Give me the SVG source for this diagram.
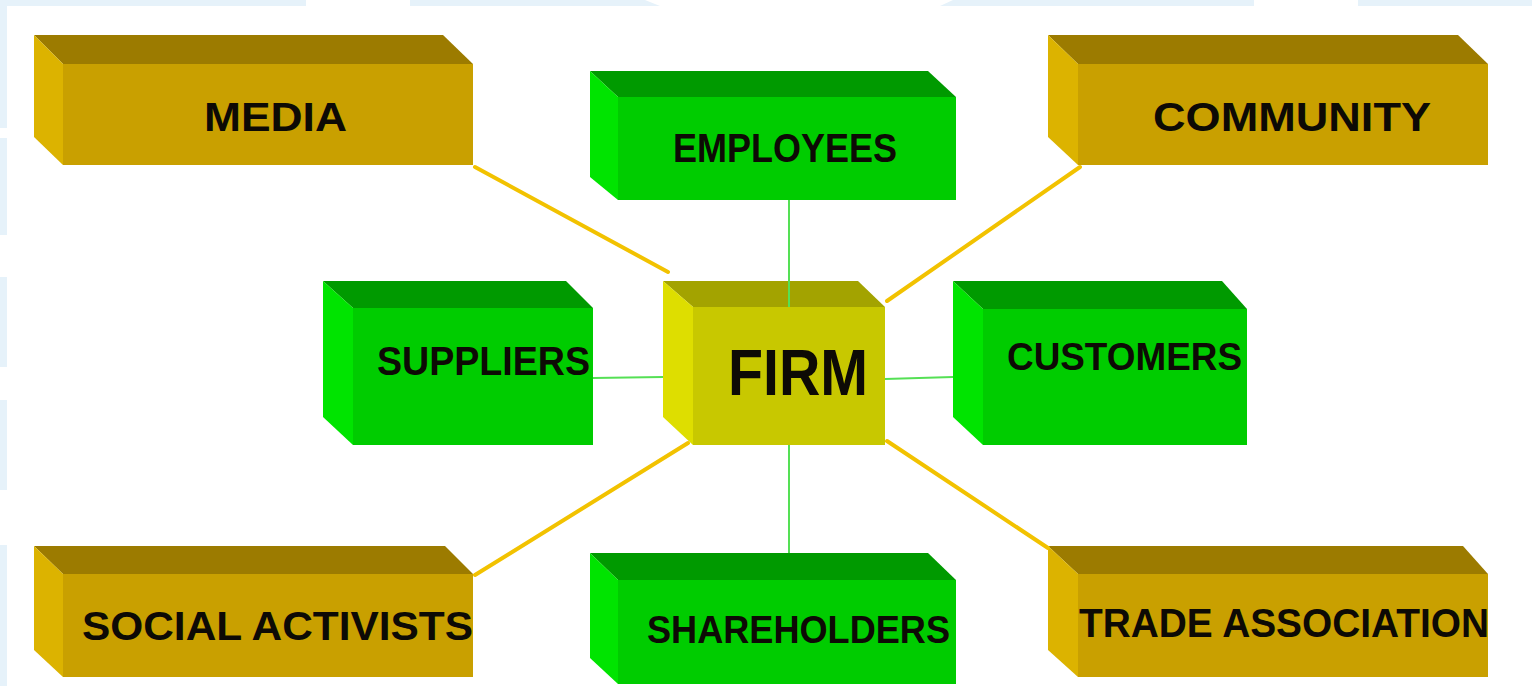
<svg xmlns="http://www.w3.org/2000/svg" width="1532" height="686" viewBox="0 0 1532 686">
<style>
.lbl{font-family:"Liberation Sans",Arial,sans-serif;font-weight:bold;fill:#0d0a05;font-size:41px}
.gold .top{fill:#9c7b00}.gold .side{fill:#dcb300}.gold .front{fill:#c9a000}
.green .top{fill:#009a00}.green .side{fill:#00e400}.green .front{fill:#00cc00}
.firm .top{fill:#a3a300}.firm .side{fill:#dede00}.firm .front{fill:#c8c800}
.ylink{stroke:#f2c200;stroke-width:4;stroke-linecap:round}
.glink{stroke:#55e055;stroke-width:2}
</style>
<rect width="1532" height="686" fill="#ffffff"/>
<g id="background" fill="#e6f2fa">
<rect x="0" y="0" width="306" height="6"/>
<polygon points="410,0 645,0 660,6 410,6"/>
<polygon points="953,0 1254,0 1254,6 940,6"/>
<rect x="1358" y="0" width="174" height="6"/>
<rect x="0" y="0" width="7" height="128"/>
<rect x="0" y="138" width="7" height="97"/>
<rect x="0" y="277" width="7" height="90"/>
<rect x="0" y="400" width="7" height="90"/>
<rect x="0" y="545" width="7" height="141"/>
</g>

<g id="node-media" class="gold">
<polygon class="top" points="34,35 443,35 473,64 63,64"/>
<polygon class="side" points="34,35 63,64 63,165 34,137"/>
<rect class="front" x="63" y="64" width="410" height="101"/>
<text class="lbl" x="204" y="131" textLength="143" lengthAdjust="spacingAndGlyphs">MEDIA</text>
</g>

<g id="node-employees" class="green">
<polygon class="top" points="590,71 928,71 956,97 618,97"/>
<polygon class="side" points="590,71 618,97 618,200 590,177"/>
<rect class="front" x="618" y="97" width="338" height="103"/>
<text class="lbl" x="673" y="162" textLength="224" lengthAdjust="spacingAndGlyphs" style="font-size:40px">EMPLOYEES</text>
</g>

<g id="node-community" class="gold">
<polygon class="top" points="1048,35 1458,35 1488,64 1078,64"/>
<polygon class="side" points="1048,35 1078,64 1078,165 1048,137"/>
<rect class="front" x="1078" y="64" width="410" height="101"/>
<text class="lbl" x="1153" y="131" textLength="278" lengthAdjust="spacingAndGlyphs">COMMUNITY</text>
</g>

<g id="node-suppliers" class="green">
<polygon class="top" points="323,281 566,281 593,308 353,308"/>
<polygon class="side" points="323,281 353,308 353,445 323,417"/>
<rect class="front" x="353" y="308" width="240" height="137"/>
<text class="lbl" x="377" y="375" textLength="213" lengthAdjust="spacingAndGlyphs">SUPPLIERS</text>
</g>

<g id="node-firm" class="firm">
<polygon class="top" points="663,281 858,281 885,307 693,307"/>
<polygon class="side" points="663,281 693,307 693,445 663,417"/>
<rect class="front" x="693" y="307" width="192" height="138"/>
<text class="lbl" x="728" y="395" textLength="140" lengthAdjust="spacingAndGlyphs" style="font-size:64px">FIRM</text>
</g>

<g id="node-customers" class="green">
<polygon class="top" points="953,281 1222,281 1247,309 983,309"/>
<polygon class="side" points="953,281 983,309 983,445 953,417"/>
<rect class="front" x="983" y="309" width="264" height="136"/>
<text class="lbl" x="1007" y="370" textLength="235" lengthAdjust="spacingAndGlyphs" style="font-size:38px">CUSTOMERS</text>
</g>

<g id="node-social-activists" class="gold">
<polygon class="top" points="34,546 445,546 473,574 63,574"/>
<polygon class="side" points="34,546 63,574 63,677 34,650"/>
<rect class="front" x="63" y="574" width="410" height="103"/>
<text class="lbl" x="82" y="640" textLength="391" lengthAdjust="spacingAndGlyphs">SOCIAL ACTIVISTS</text>
</g>

<g id="node-shareholders" class="green">
<polygon class="top" points="590,553 928,553 956,580 618,580"/>
<polygon class="side" points="590,553 618,580 618,684 590,658"/>
<rect class="front" x="618" y="580" width="338" height="104"/>
<text class="lbl" x="647" y="643" textLength="303" lengthAdjust="spacingAndGlyphs" style="font-size:39px">SHAREHOLDERS</text>
</g>

<g id="node-trade-association" class="gold">
<polygon class="top" points="1048,546 1463,546 1488,574 1078,574"/>
<polygon class="side" points="1048,546 1078,574 1078,677 1048,650"/>
<rect class="front" x="1078" y="574" width="410" height="103"/>
<text class="lbl" x="1079" y="637" textLength="410" lengthAdjust="spacingAndGlyphs">TRADE ASSOCIATION</text>
</g>

<g id="connectors">
<line class="ylink" x1="475" y1="167" x2="668" y2="272"/>
<line class="ylink" x1="1080" y1="167" x2="887" y2="301"/>
<line class="ylink" x1="475" y1="575" x2="688" y2="443"/>
<line class="ylink" x1="1048" y1="548" x2="887" y2="441"/>
<line class="glink" x1="789" y1="200" x2="789" y2="307"/>
<line class="glink" x1="789" y1="445" x2="789" y2="553"/>
<line class="glink" x1="593" y1="378" x2="663" y2="377"/>
<line class="glink" x1="885" y1="379" x2="953" y2="377"/>
</g>
</svg>
